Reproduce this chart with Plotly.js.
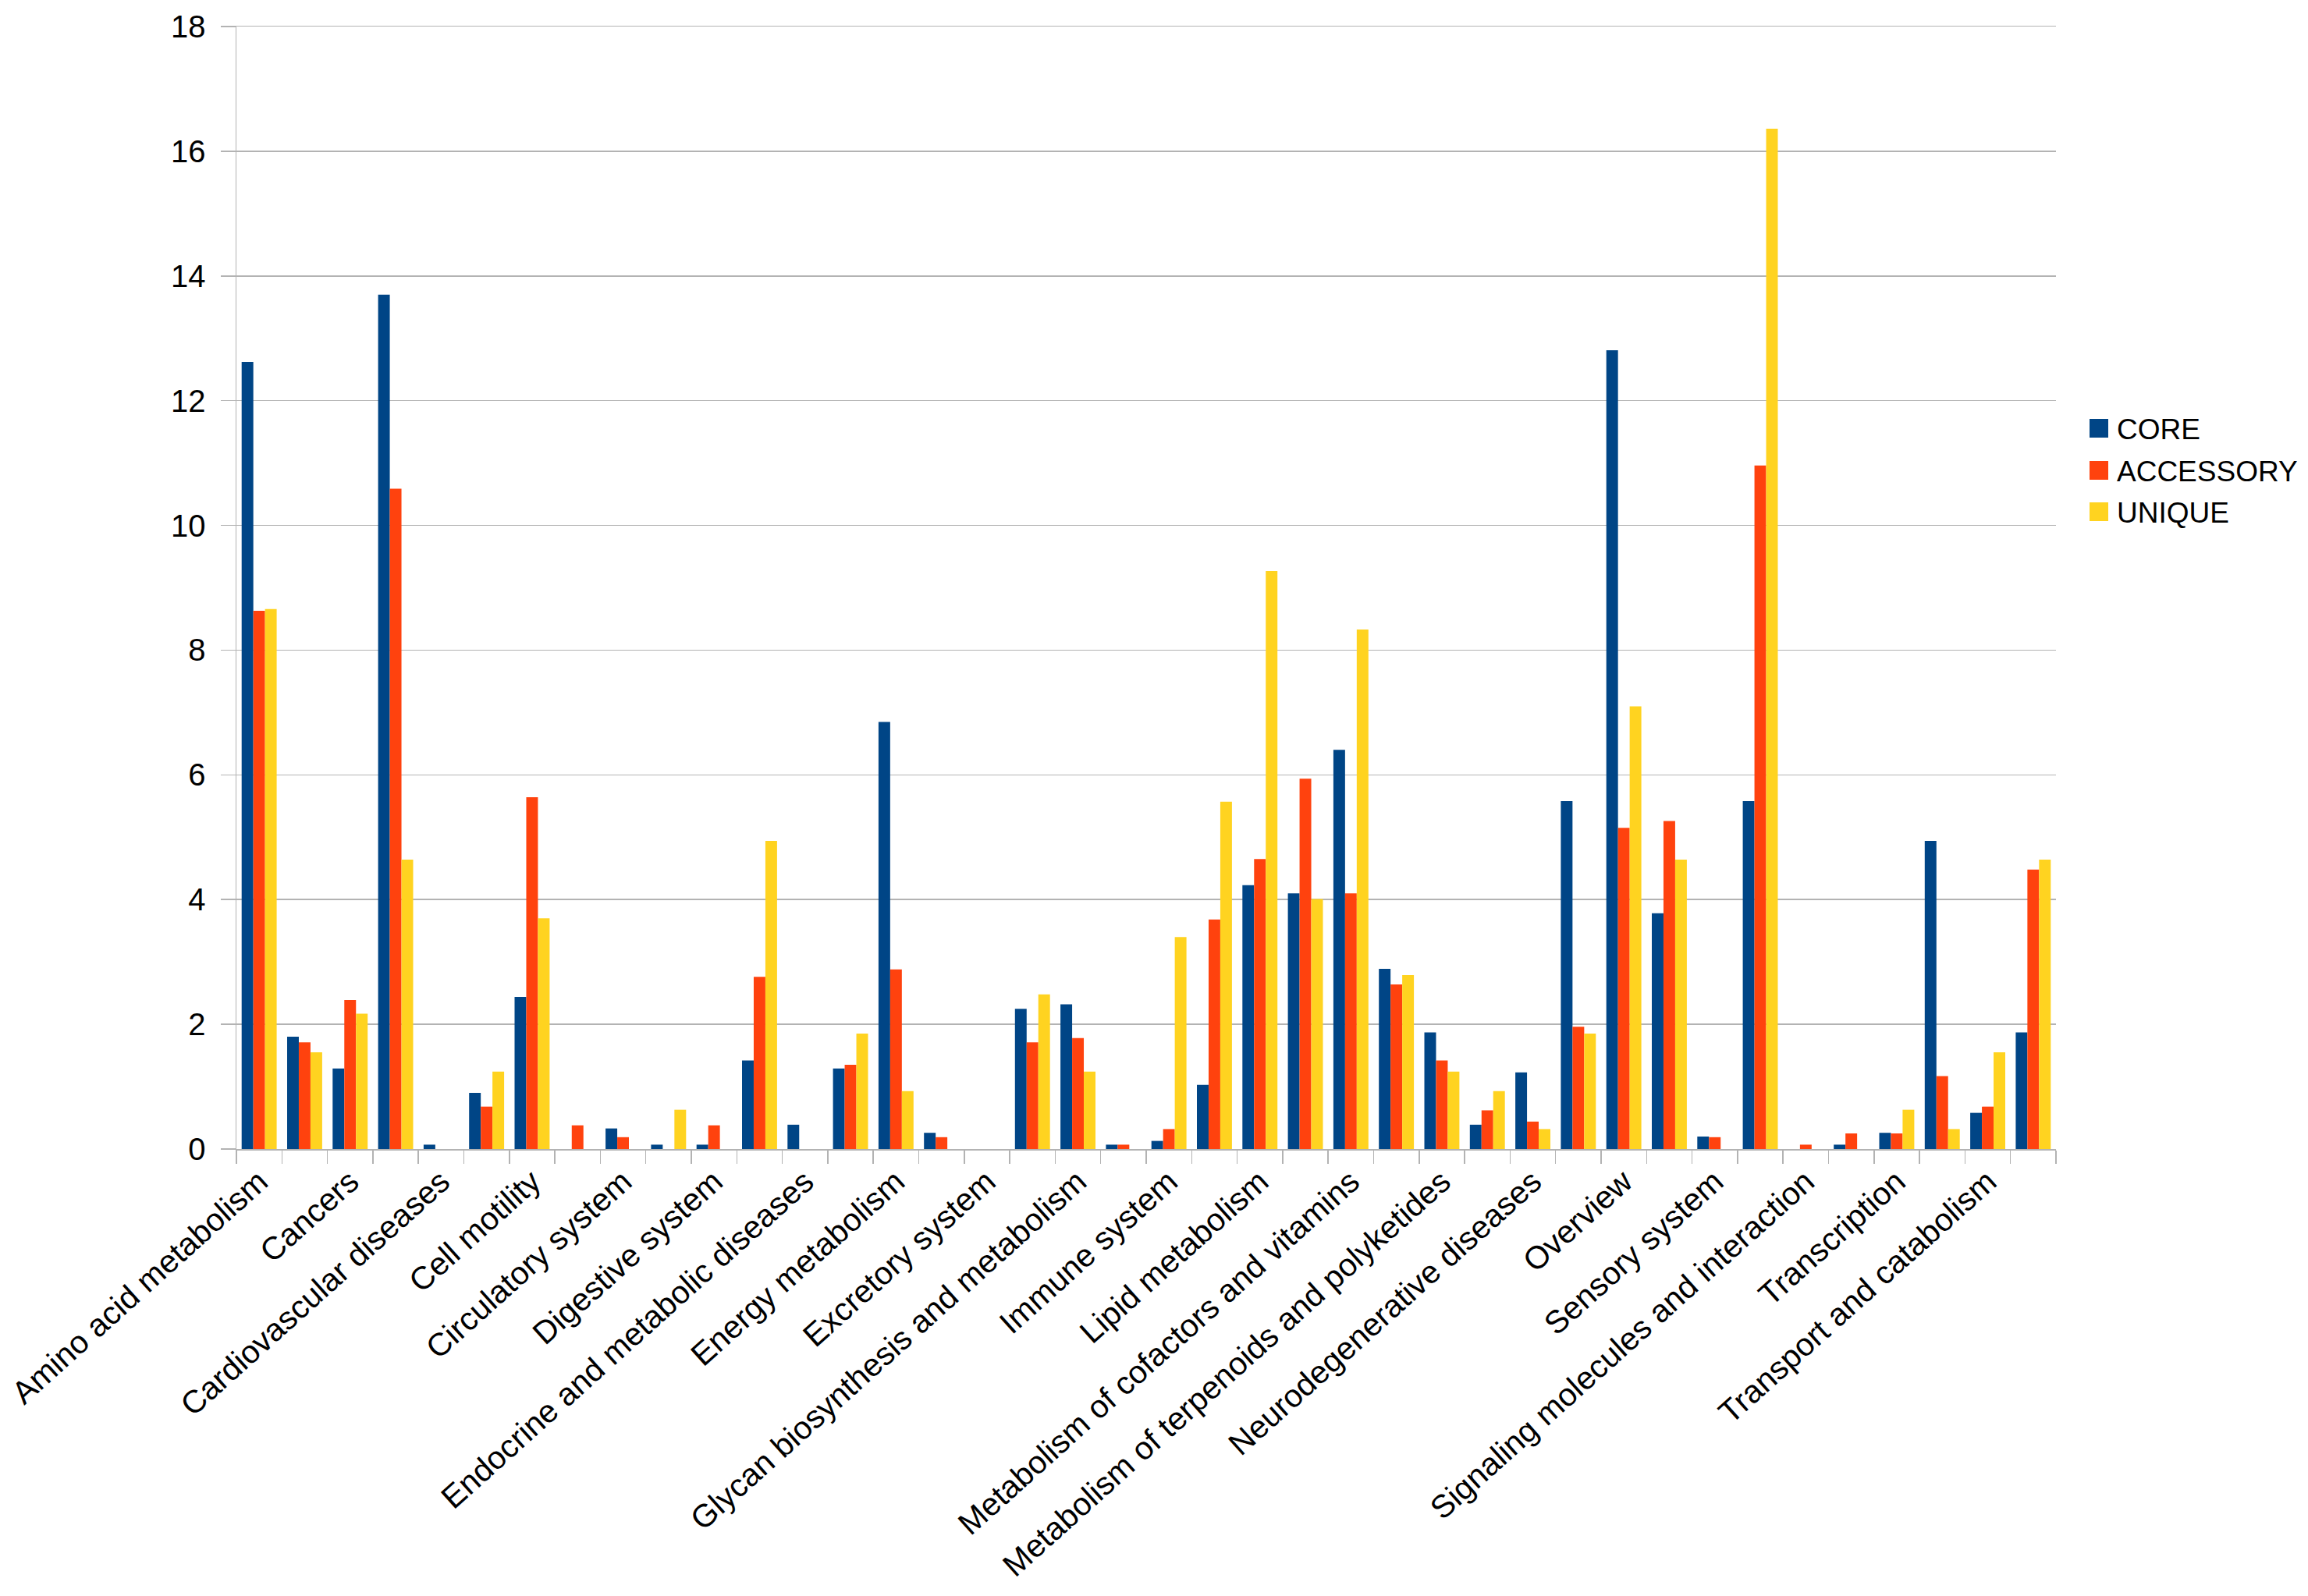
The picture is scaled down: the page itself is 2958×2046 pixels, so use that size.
<!DOCTYPE html>
<html>
<head>
<meta charset="utf-8">
<script src="https://cdn.plot.ly/plotly-3.0.1.min.js"></script>
<style>html,body{margin:0;padding:0;background:#fff;}#chart{width:2958px;height:2046px;}</style>
</head>
<body>
<div id="chart"></div>
<script>
const categories = [
  "Amino acid metabolism",
  "Biosynthesis of other secondary metabolites",
  "Cancers",
  "Carbohydrate metabolism",
  "Cardiovascular diseases",
  "Cell growth and death",
  "Cell motility",
  "Cellular community",
  "Circulatory system",
  "Development",
  "Digestive system",
  "Drug resistance",
  "Endocrine and metabolic diseases",
  "Endocrine system",
  "Energy metabolism",
  "Environmental adaptation",
  "Excretory system",
  "Folding, sorting and degradation",
  "Glycan biosynthesis and metabolism",
  "Immune diseases",
  "Immune system",
  "Infectious diseases",
  "Lipid metabolism",
  "Membrane transport",
  "Metabolism of cofactors and vitamins",
  "Metabolism of other amino acids",
  "Metabolism of terpenoids and polyketides",
  "Nervous system",
  "Neurodegenerative diseases",
  "Nucleotide metabolism",
  "Overview",
  "Replication and repair",
  "Sensory system",
  "Signal transduction",
  "Signaling molecules and interaction",
  "Substance dependence",
  "Transcription",
  "Translation",
  "Transport and catabolism",
  "Xenobiotics biodegradation and metabolism"
];

const core = [12.62, 1.80, 1.29, 13.70, 0.07, 0.90, 2.44, 0.0, 0.33, 0.07,
              0.07, 1.42, 0.39, 1.29, 6.85, 0.26, 0.0, 2.25, 2.32, 0.07,
              0.13, 1.03, 4.23, 4.10, 6.40, 2.89, 1.87, 0.39, 1.23, 5.58,
              12.81, 3.78, 0.20, 5.58, 0.0, 0.07, 0.26, 4.94, 0.58, 1.87];

const accessory = [8.63, 1.71, 2.39, 10.59, 0.0, 0.68, 5.64, 0.38, 0.19, 0.0,
                   0.38, 2.76, 0.0, 1.35, 2.88, 0.19, 0.0, 1.71, 1.78, 0.07,
                   0.32, 3.68, 4.65, 5.94, 4.10, 2.64, 1.42, 0.62, 0.44, 1.96,
                   5.15, 5.26, 0.19, 10.96, 0.07, 0.25, 0.25, 1.17, 0.68, 4.48];

const unique = [8.66, 1.55, 2.17, 4.64, 0.0, 1.24, 3.70, 0.0, 0.0, 0.63,
                0.0, 4.94, 0.0, 1.85, 0.93, 0.0, 0.0, 2.48, 1.24, 0.0,
                3.40, 5.57, 9.27, 4.01, 8.33, 2.79, 1.24, 0.93, 0.32, 1.85,
                7.10, 4.64, 0.0, 16.36, 0.0, 0.0, 0.63, 0.32, 1.55, 4.64];

const seriesNames = ["CORE", "ACCESSORY", "UNIQUE"];
const seriesColors = ["#004586", "#ff420e", "#ffd320"];
const yTickValues = [0, 2, 4, 6, 8, 10, 12, 14, 16, 18];

// every other category label is shown, as in the reference
const tickLabels = categories.map((c, i) => (i % 2 === 0 ? c : ""));

const font = "Liberation Sans, Arial, sans-serif";
const values = [core, accessory, unique];

const traces = values.map((v, k) => ({
  type: "bar",
  name: seriesNames[k],
  x: categories,
  y: v,
  showlegend: false,
  marker: { color: seriesColors[k], line: { width: 0 } }
}));

// legend drawn as key squares + text (paper coordinates), matching the reference's large keys
const W = 2958, H = 2046;
const M = { l: 303, r: 323, t: 34, b: 573 };
const plotW = W - M.l - M.r, plotH = H - M.t - M.b;
const px2x = px => (px - M.l) / plotW;
const py2y = py => (H - M.b - py) / plotH;
const legendRowsY = [549, 603, 656];
const legendShapes = seriesNames.map((n, k) => ({
  type: "rect", xref: "paper", yref: "paper",
  x0: px2x(2678), x1: px2x(2702),
  y0: py2y(legendRowsY[k] + 12), y1: py2y(legendRowsY[k] - 12),
  fillcolor: seriesColors[k], line: { width: 0 }
}));
const legendTexts = seriesNames.map((n, k) => ({
  xref: "paper", yref: "paper",
  x: px2x(2711), y: py2y(legendRowsY[k] + 1),
  xanchor: "left", yanchor: "middle",
  text: n, showarrow: false,
  font: { family: font, size: 37, color: "#000000" }
}));

const layout = {
  width: W,
  height: H,
  paper_bgcolor: "#ffffff",
  plot_bgcolor: "#ffffff",
  font: { family: font, size: 40, color: "#000000" },
  barmode: "group",
  bargap: 0.23,
  bargroupgap: 0,
  margin: { l: M.l, r: M.r, t: M.t, b: M.b, pad: 0 },
  showlegend: false,
  shapes: legendShapes,
  annotations: legendTexts,
  xaxis: {
    type: "category",
    tickmode: "array",
    tickvals: categories,
    ticktext: tickLabels,
    tickangle: -42,
    tickson: "boundaries",
    ticks: "outside",
    ticklen: 17,
    tickwidth: 1.5,
    tickcolor: "#b3b3b3",
    showgrid: false,
    showline: true,
    linecolor: "#b3b3b3",
    linewidth: 1.5,
    mirror: true,
    tickfont: { family: font, size: 41, color: "#000000" },
    automargin: false
  },
  yaxis: {
    range: [0, 18],
    tickmode: "array",
    tickvals: yTickValues,
    ticks: "outside",
    ticklen: 19,
    tickwidth: 1.5,
    tickcolor: "#b3b3b3",
    showgrid: true,
    gridcolor: "#b3b3b3",
    gridwidth: 1.5,
    showline: true,
    linecolor: "#b3b3b3",
    linewidth: 1.5,
    zeroline: false,
    ticklabelstandoff: 11,
    tickfont: { family: font, size: 40, color: "#000000" },
    automargin: false
  }
};

Plotly.newPlot("chart", traces, layout, { displayModeBar: false, staticPlot: true });
</script>
</body>
</html>
